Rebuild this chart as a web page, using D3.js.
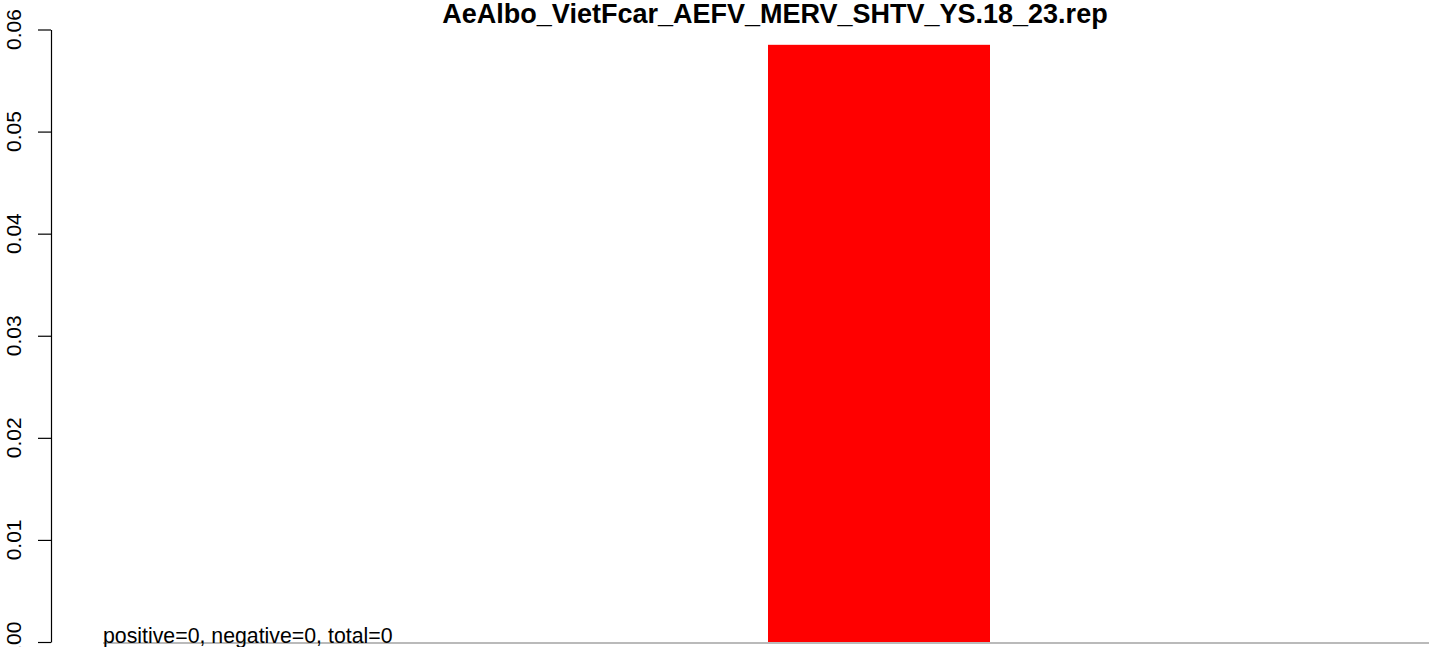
<!DOCTYPE html>
<html>
<head>
<meta charset="utf-8">
<script src="https://cdn.jsdelivr.net/npm/d3@7"></script>
<style>
  html, body { margin: 0; padding: 0; background: #fff; }
  svg { display: block; }
  text { font-family: "Liberation Sans", Arial, Helvetica, sans-serif; }
</style>
</head>
<body>
<script>
const chartTitle = "AeAlbo_VietFcar_AEFV_MERV_SHTV_YS.18_23.rep";
const categories = ["AEFV_MERV_SHTV_YS.18_23"];
const values = [0.0585];
const yTicks = [0, 0.01, 0.02, 0.03, 0.04, 0.05, 0.06];
const yTickLabels = ["0.00", "0.01", "0.02", "0.03", "0.04", "0.05", "0.06"];
const noteText = "positive=0, negative=0, total=0";

const W = 1429, H = 647;
const svg = d3.select("body").append("svg").attr("width", W).attr("height", H);

const axisX = 51;
const y = d3.scaleLinear().domain([0, 0.06]).range([642, 29.5]);
const x = d3.scaleBand().domain(categories).range([768, 990]).padding(0);

// baseline (gray)
svg.append("line")
  .attr("x1", 103).attr("x2", W)
  .attr("y1", y(0) + 1).attr("y2", y(0) + 1)
  .attr("stroke", "#a3a3a3").attr("stroke-width", 1.6);

// bars
svg.selectAll("rect.bar").data(values).join("rect")
  .attr("class", "bar")
  .attr("x", (d, i) => x(categories[i]))
  .attr("width", x.bandwidth())
  .attr("y", d => y(d))
  .attr("height", d => y(0) - y(d))
  .attr("fill", "#ff0000");

// y axis
const yAxis = d3.axisLeft(y).tickValues(yTicks).tickSize(13).tickSizeOuter(0).tickFormat("");
const gy = svg.append("g").attr("transform", `translate(${axisX},0)`).call(yAxis);
gy.select(".domain").attr("stroke", "#000").attr("stroke-width", 1.2);
gy.selectAll(".tick line").attr("stroke", "#000").attr("stroke-width", 1.2);

svg.selectAll("text.ylab").data(yTicks).join("text")
  .attr("class", "ylab")
  .attr("transform", (d) => `translate(21,${y(d)}) rotate(-90)`)
  .attr("text-anchor", "middle")
  .attr("font-size", 21)
  .attr("fill", "#000")
  .text((d, i) => yTickLabels[i]);

// title
svg.append("text")
  .attr("x", 775).attr("y", 23)
  .attr("text-anchor", "middle")
  .attr("font-size", 27)
  .attr("font-weight", "bold")
  .attr("fill", "#000")
  .text(chartTitle);

// note
svg.append("text")
  .attr("x", 103).attr("y", 643)
  .attr("font-size", 21.3)
  .attr("fill", "#000")
  .text(noteText);
</script>
</body>
</html>
